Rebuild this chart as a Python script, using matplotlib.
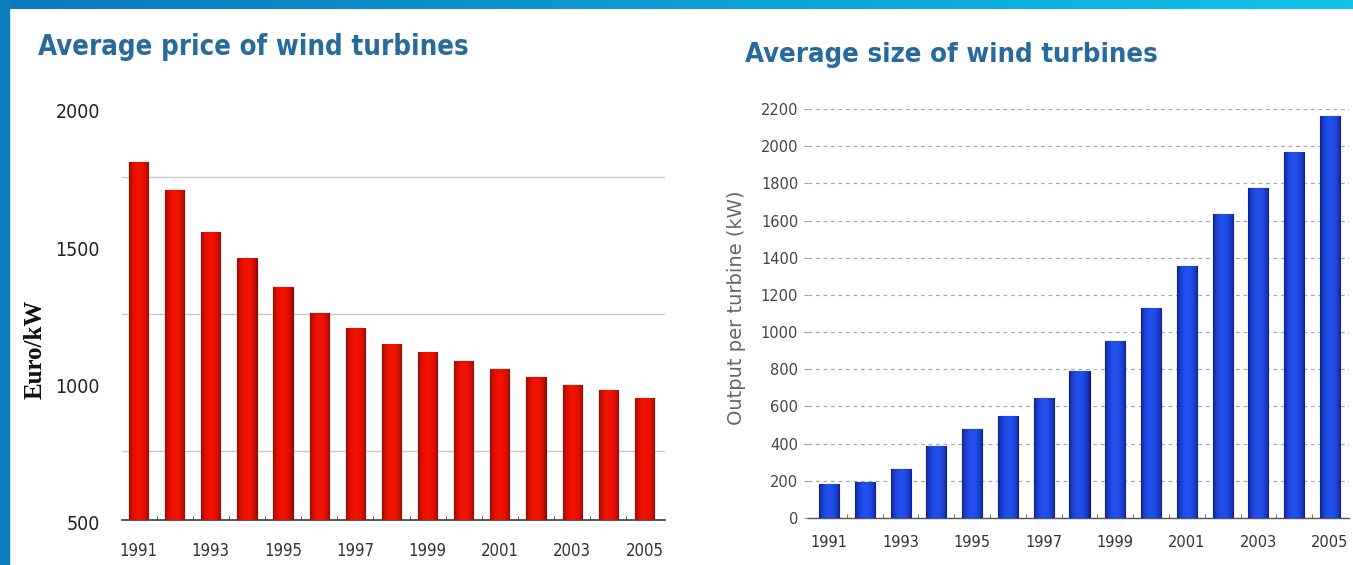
import numpy as np
import matplotlib
matplotlib.use("Agg")
import matplotlib.pyplot as plt
from matplotlib import transforms, font_manager as fm
from matplotlib.colors import to_rgb

# ---------------- data ----------------
years = list(range(1991, 2006))
price_eur_kw = [1805, 1700, 1550, 1455, 1350, 1255, 1200, 1140, 1110, 1080,
                1050, 1020, 990, 973, 945]
size_kw = [185, 195, 265, 385, 480, 550, 645, 790, 950, 1130,
           1355, 1635, 1775, 1970, 2160]
price_ticks = [500, 1000, 1500, 2000]
price_grid = [750, 1250, 1750]
size_ticks = list(range(0, 2201, 200))
year_labels = [str(y) for y in years[::2]]

title_left = "Average price of wind turbines"
title_right = "Average size of wind turbines"
ylabel_left = "Euro/kW"
ylabel_right = "Output per turbine (kW)"

W, H = 1353, 565
fig = plt.figure(figsize=(W / 100, H / 100), dpi=100, facecolor="white")


# ---------------- fonts: prefer an installed condensed face ----------------
def find_condensed(bold):
    best = None
    for f in fm.fontManager.ttflist:
        name = (f.name + " " + f.fname).lower()
        if ("condensed" in name or "narrow" in name or f.stretch in ("condensed", "semi-condensed")) \
                and f.style == "normal" and "mono" not in name and "serif" not in f.name.lower():
            isbold = f.weight in ("bold", 700, "heavy", 800, "semibold", 600) or "bold" in name
            if isbold == bold:
                if best is None or "dejavu" in name:
                    best = f
    if best is None:
        return fm.FontProperties(family="Liberation Sans", weight="bold" if bold else "normal")
    return fm.FontProperties(fname=best.fname)


fp_cond_bold = find_condensed(True)
fp_cond = find_condensed(False)

# ---------------- frame ----------------
band = fig.add_axes([0, 1 - 9 / H, 1, 9 / H])
grad = np.linspace(0, 1, 256)
c0, c1 = np.array(to_rgb("#0a78bb")), np.array(to_rgb("#10c2e8"))
band.imshow((c0[None, :] * (1 - grad[:, None]) + c1[None, :] * grad[:, None])[None, :, :],
            aspect="auto", extent=[0, 1, 0, 1])
band.axis("off")
fig.patches.append(plt.Rectangle((0, 0), 9 / W, 1, transform=fig.transFigure,
                                 color="#0a7dbf", zorder=0))


def gradient_bars(ax, bars, edge, center):
    e, c = np.array(to_rgb(edge)), np.array(to_rgb(center))
    t = np.linspace(0, 1, 64)
    w = np.sin(np.pi * t) ** 0.6
    cols = (e[None, :] * (1 - w[:, None]) + c[None, :] * w[:, None])[None, :, :]
    for b in bars:
        x0, y0 = b.get_x(), b.get_y()
        im = ax.imshow(cols, aspect="auto", extent=[x0, x0 + b.get_width(), y0, y0 + b.get_height()],
                       zorder=3, interpolation="bilinear")
        im.set_clip_path(b)


# ---------------- left chart ----------------
axL = fig.add_axes([122 / W, 1 - 520 / H, (665 - 122) / W, (520 - 108) / H])
xL = np.arange(len(years))
barsL = axL.bar(xL, np.array(price_eur_kw) - 500, bottom=500, width=0.53,
                color="#e01000", edgecolor="#900800", linewidth=0.8, zorder=2)
gradient_bars(axL, barsL, "#980600", "#f21200")
axL.set_xlim(-0.457, 14.568)
axL.set_ylim(500, 2000)
axL.set_yticks(price_ticks)
axL.set_yticks(price_grid, minor=True)
axL.grid(axis="y", which="minor", color="#c9c9c9", linewidth=1.0, zorder=0)
axL.set_xticks(xL[::2])
axL.set_xticklabels(year_labels)
axL.set_xticks(xL[:-1] + 0.5, minor=True)
for s in ["left", "right", "top"]:
    axL.spines[s].set_visible(False)
axL.spines["bottom"].set_color("#3a3a3a")
axL.spines["bottom"].set_linewidth(1.2)
axL.tick_params(axis="y", which="major", length=0, pad=16, labelcolor="#222222")
axL.tick_params(axis="y", which="minor", length=0)
axL.tick_params(axis="x", which="major", length=0, pad=16, labelcolor="#333333")
axL.tick_params(axis="x", which="minor", direction="in", length=3, color="#404040")
for lab in axL.get_yticklabels():
    lab.set_fontproperties(fp_cond)
    lab.set_fontsize(14)
    lab.set_transform(lab.get_transform() + transforms.ScaledTranslation(0, -3 / 100, fig.dpi_scale_trans))
for lab in axL.get_xticklabels():
    lab.set_fontproperties(fp_cond)
    lab.set_fontsize(12)
axL.set_facecolor("none")
fig.text(35 / W, 1 - 349 / H, ylabel_left, rotation=90, ha="center", va="center",
         fontsize=18, fontweight="bold", family=["Liberation Serif", "DejaVu Serif"],
         color="#111111")

# ---------------- right chart ----------------
axR = fig.add_axes([808 / W, 1 - 518 / H, (1349 - 808) / W, (518 - 109) / H])
xR = np.arange(len(years))
barsR = axR.bar(xR, size_kw, width=0.56, color="#1f45d8", edgecolor="#0a1870",
                linewidth=0.8, zorder=2)
gradient_bars(axR, barsR, "#0a1c88", "#2250ee")
axR.set_xlim(-0.587, 14.53)
axR.set_ylim(0, 2200)
axR.set_yticks(size_ticks)
axR.grid(axis="y", color="#a8a8a8", linewidth=0.9, linestyle=(0, (3, 3)), zorder=0)
axR.set_xticks(xR[::2])
axR.set_xticklabels(year_labels)
axR.set_xticks(xR[:-1] + 0.5, minor=True)
for s in ["left", "right", "top"]:
    axR.spines[s].set_visible(False)
axR.spines["bottom"].set_color("#555555")
axR.spines["bottom"].set_linewidth(1.0)
axR.tick_params(axis="y", length=3, color="#999999", pad=4, labelsize=10.5,
                labelcolor="#444444")
axR.tick_params(axis="x", which="major", length=0, pad=12, labelsize=10.5,
                labelcolor="#333333")
axR.tick_params(axis="x", which="minor", direction="in", length=3, color="#555555")
axR.set_facecolor("none")
fig.text(737 / W, 1 - 308 / H, ylabel_right, rotation=90, ha="center", va="center",
         fontsize=14, color="#666666")

# ---------------- titles ----------------
t1 = fig.text(38 / W, 1 - 55 / H, title_left, ha="left", va="baseline",
              fontproperties=fp_cond_bold, fontsize=22, color="#276a9c")
t2 = fig.text(745 / W, 1 - 62 / H, title_right, ha="left", va="baseline",
              fontproperties=fp_cond_bold, fontsize=22, color="#276a9c")
# fit titles to the widths seen in the reference
renderer = fig.canvas.get_renderer()
for t, target in ((t1, 429), (t2, 412)):
    wpx = t.get_window_extent(renderer).width
    t.set_fontsize(min(24, 22 * target / wpx))

fig.savefig("out.png", dpi=100, facecolor="white")
